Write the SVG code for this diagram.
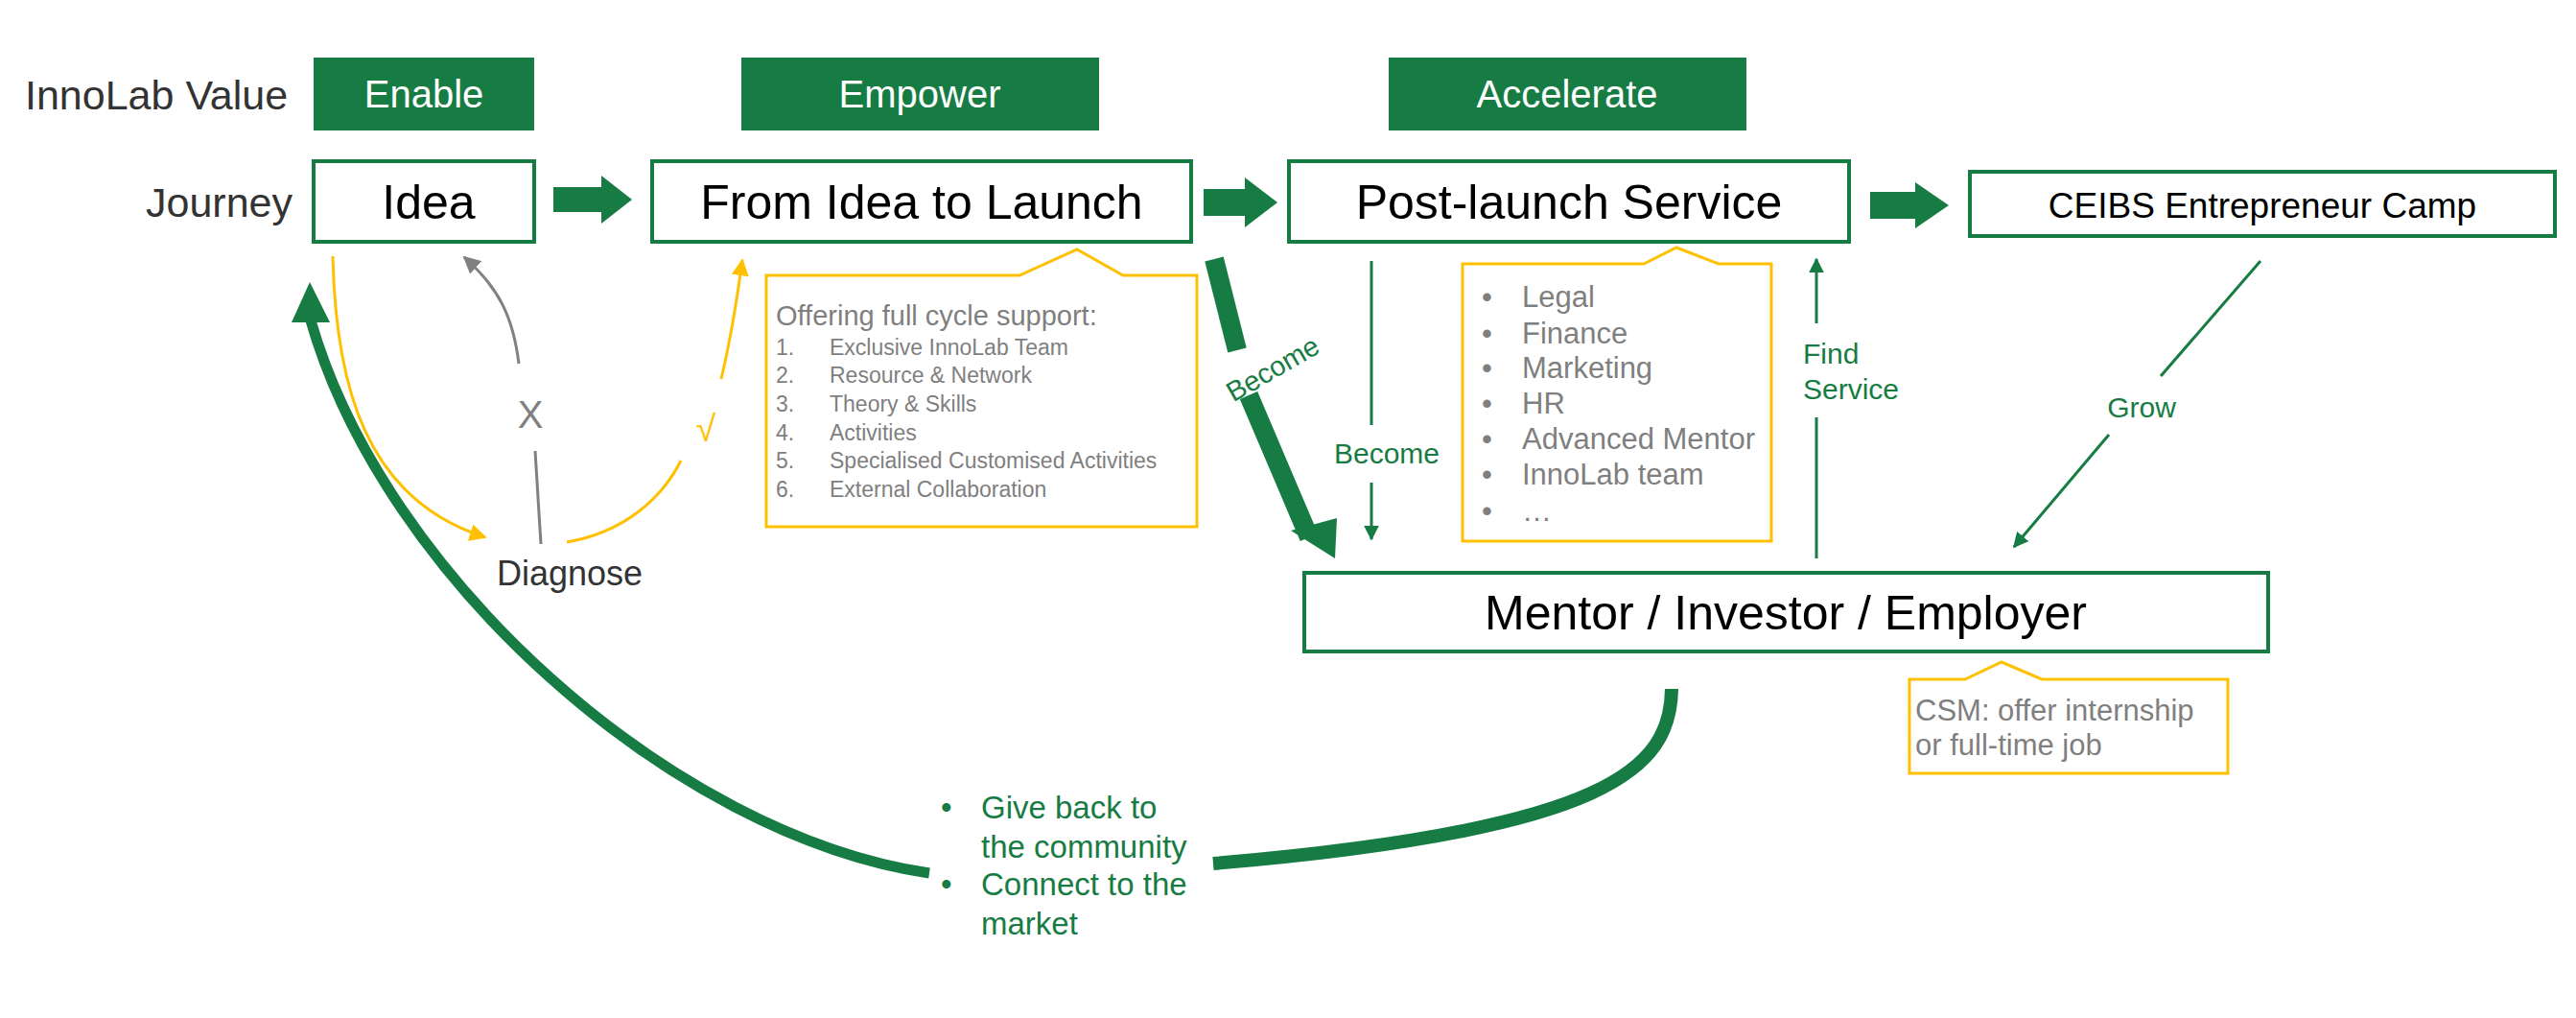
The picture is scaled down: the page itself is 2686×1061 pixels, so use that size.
<svg xmlns="http://www.w3.org/2000/svg" width="2686" height="1061" viewBox="0 0 2686 1061">
<style>
text{font-family:"Liberation Sans",Arial,sans-serif}
.val{fill:#177c44}
.vt{fill:#fff;font-size:40px;text-anchor:middle}
.box{fill:#fff;stroke:#177c44;stroke-width:4}
.bt{fill:#000;font-size:50px;text-anchor:middle}
.lab{fill:#333;font-size:43px}
.call{fill:#fff;stroke:#ffc000;stroke-width:3}
.gt{fill:#7f7f7f}
.gl{fill:#177c44}
.thin{fill:none;stroke:#177c44;stroke-width:3}
.yl{fill:none;stroke:#ffc000;stroke-width:3}
.gy{fill:none;stroke:#808080;stroke-width:3}
</style>
<defs>
<marker id="mg" viewBox="0 0 10 10" refX="9" refY="5" markerWidth="16" markerHeight="16" orient="auto" markerUnits="userSpaceOnUse"><path d="M0,0L10,5L0,10Z" fill="#177c44"/></marker>
<marker id="my" viewBox="0 0 10 10" refX="9" refY="5" markerWidth="18" markerHeight="18" orient="auto" markerUnits="userSpaceOnUse"><path d="M0,0L10,5L0,10Z" fill="#ffc000"/></marker>
<marker id="mgy" viewBox="0 0 10 10" refX="9" refY="5" markerWidth="18" markerHeight="18" orient="auto" markerUnits="userSpaceOnUse"><path d="M0,0L10,5L0,10Z" fill="#808080"/></marker>
</defs>
<text class="lab" x="26" y="114">InnoLab Value</text>
<text class="lab" x="305" y="226" text-anchor="end">Journey</text>
<g id="enable"><rect class="val" x="327" y="60" width="230" height="76"/><text class="vt" x="442" y="112">Enable</text></g>
<g id="empower"><rect class="val" x="773" y="60" width="373" height="76"/><text class="vt" x="959" y="112">Empower</text></g>
<g id="accelerate"><rect class="val" x="1448" y="60" width="373" height="76"/><text class="vt" x="1634" y="112">Accelerate</text></g>
<g id="idea"><rect class="box" x="327" y="168" width="230" height="84"/><text class="bt" x="447" y="228">Idea</text></g>
<g id="launch"><rect class="box" x="680" y="168" width="562" height="84"/><text class="bt" x="961" y="228">From Idea to Launch</text></g>
<g id="post"><rect class="box" x="1344" y="168" width="584" height="84"/><text class="bt" x="1636" y="228">Post-launch Service</text></g>
<g id="camp"><rect class="box" x="2054" y="179" width="610" height="67"/><text class="bt" x="2359" y="227" style="font-size:37px">CEIBS Entrepreneur Camp</text></g>
<g id="mentor"><rect class="box" x="1360" y="597" width="1005" height="82"/><text class="bt" x="1862" y="656">Mentor / Investor / Employer</text></g>
<g id="diagnose"><text x="594" y="610" style="font-size:36px;fill:#333" text-anchor="middle">Diagnose</text></g>
<g id="offering">
<path class="call" d="M799,287H1063L1123,260L1171,287H1248V549H799Z"/>
<text class="gt" x="809" y="339" style="font-size:29px">Offering full cycle support:</text>
<g class="gt" style="font-size:23px">
<text x="809" y="370">1.</text><text x="865" y="370">Exclusive InnoLab Team</text>
<text x="809" y="399">2.</text><text x="865" y="399">Resource &amp; Network</text>
<text x="809" y="429">3.</text><text x="865" y="429">Theory &amp; Skills</text>
<text x="809" y="459">4.</text><text x="865" y="459">Activities</text>
<text x="809" y="488">5.</text><text x="865" y="488">Specialised Customised Activities</text>
<text x="809" y="518">6.</text><text x="865" y="518">External Collaboration</text>
</g></g>
<g id="services">
<path class="call" d="M1525,275H1714L1748,258L1792,275H1847V564H1525Z"/>
<g class="gt" style="font-size:31px">
<text x="1545" y="320">•</text><text x="1587" y="320">Legal</text>
<text x="1545" y="358">•</text><text x="1587" y="358">Finance</text>
<text x="1545" y="394">•</text><text x="1587" y="394">Marketing</text>
<text x="1545" y="431">•</text><text x="1587" y="431">HR</text>
<text x="1545" y="468">•</text><text x="1587" y="468">Advanced Mentor</text>
<text x="1545" y="505">•</text><text x="1587" y="505">InnoLab team</text>
<text x="1545" y="543">•</text><text x="1587" y="543">…</text>
</g></g>
<g id="csm">
<path class="call" d="M1991,708H2049L2087,690L2129,708H2323V806H1991Z"/>
<text class="gt" x="1997" y="751" style="font-size:31px">CSM: offer internship</text>
<text class="gt" x="1997" y="787" style="font-size:31px">or full-time job</text>
</g>
<g id="connectors">
<path class="val" d="M577,195H627V183L659,208L627,233V221H577Z"/>
<path class="val" d="M1255,197H1298V185L1332,211L1298,237V225H1255Z"/>
<path class="val" d="M1950,200H1997V190L2032,214L1997,238V228H1950Z"/>
<path d="M1430,272V443M1430,503V562" class="thin" marker-end="url(#mg)"/>
<text class="gl" x="1446" y="483" style="font-size:30px" text-anchor="middle">Become</text>
<path d="M1894,582V435M1894,337V270" class="thin" marker-end="url(#mg)"/>
<text class="gl" x="1880" y="379" style="font-size:30px">Find</text>
<text class="gl" x="1880" y="416" style="font-size:30px">Service</text>
<path d="M2357,272L2253,392" class="thin"/>
<path d="M2199,453L2100,570" class="thin" marker-end="url(#mg)"/>
<text class="gl" x="2233" y="435" style="font-size:30px" text-anchor="middle">Grow</text>
<path d="M1266,270L1290,365M1302,412L1365,560" fill="none" stroke="#177c44" stroke-width="20"/>
<path d="M1346,553L1392,582L1394,540Z" fill="#177c44"/>
<text class="gl" transform="translate(1332,393) rotate(-30)" style="font-size:29px" text-anchor="middle">Become</text>
<path class="gy" d="M541,379C535,330 520,300 484,268" marker-end="url(#mgy)"/>
<path class="gy" d="M558,470L564,567"/>
<text x="553" y="446" style="font-size:40px;fill:#808080" text-anchor="middle">X</text>
<path class="yl" d="M347,267C350,400 380,520 506,560" marker-end="url(#my)"/>
<path class="yl" d="M591,565C650,555 690,520 710,480"/>
<path class="yl" d="M752,395C765,340 770,300 774,271" marker-end="url(#my)"/>
<text x="736" y="460" style="font-size:38px;fill:#ffc000" text-anchor="middle">√</text>
<path d="M1743,718C1742,800 1680,865 1265,900" fill="none" stroke="#177c44" stroke-width="14"/>
<path d="M969,910C700,870 400,600 324,334" fill="none" stroke="#177c44" stroke-width="11"/>
<path d="M304,336L323,294L344,336Z" fill="#177c44"/>
</g>
<g id="giveback" class="gl" style="font-size:33px">
<text x="981" y="853">•</text><text x="1023" y="853">Give back to</text>
<text x="1023" y="894">the community</text>
<text x="981" y="933">•</text><text x="1023" y="933">Connect to the</text>
<text x="1023" y="974">market</text>
</g>
</svg>
